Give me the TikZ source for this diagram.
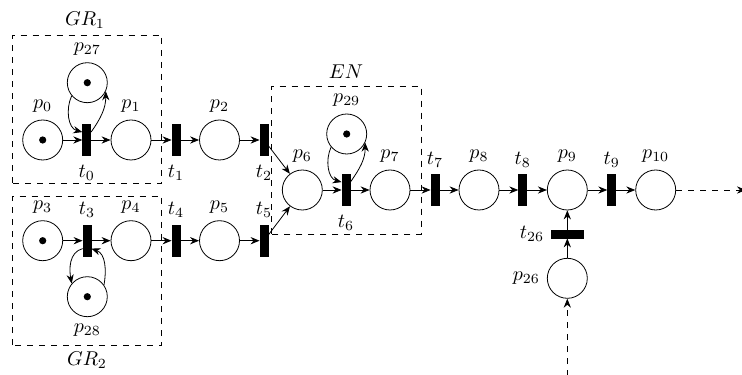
\documentclass[tikz,border=0pt]{standalone}
\usetikzlibrary{petri,arrows.meta}

\begin{document}
\begin{tikzpicture}[x=0.5pt,y=0.5pt,
  every place/.style={draw,thin,minimum size=20pt,inner sep=0pt},
  every transition/.style={draw,fill=black,minimum width=4pt,
    minimum height=15.5pt,inner sep=0pt},
  every token/.style={minimum size=3.6pt},
  htrans/.style={transition,minimum width=15.8pt,minimum height=4pt},
  arc/.style={-{Stealth[length=4.5pt,width=3.6pt]},thin},
  grp/.style={dashed,thin}]
  \useasboundingbox (0,0) rectangle (742,374);
  \node[place,tokens=1,label=above:$p_0$] (p0) at (42.7,234) {};
  \node[transition,label={[label distance=1pt]below:$t_0$}] (t0) at (86.7,234) {};
  \node[place,label=above:$p_1$] (p1) at (131,234) {};
  \node[transition,label={[label distance=1pt]below:$t_1$}] (t1) at (176,234) {};
  \node[place,label=above:$p_2$] (p2) at (219.5,234) {};
  \node[transition,label={[label distance=1pt]below:$t_2$}] (t2) at (264,234) {};
  \node[place,tokens=1,label=above:$p_{27}$] (p27) at (87.3,291.3) {};
  \node[place,tokens=1,label=above:$p_3$] (p3) at (42.7,133.3) {};
  \node[transition,label=above:$t_3$] (t3) at (87,133.3) {};
  \node[place,label=above:$p_4$] (p4) at (131,133.3) {};
  \node[transition,label=above:$t_4$] (t4) at (176,133.3) {};
  \node[place,label=above:$p_5$] (p5) at (219.5,133.3) {};
  \node[transition,label=above:$t_5$] (t5) at (264,133.3) {};
  \node[place,tokens=1,label=below:$p_{28}$] (p28) at (87.3,77.3) {};
  \node[place,label=above:$p_6$] (p6) at (302.3,184) {};
  \node[transition,label={[label distance=1pt]below:$t_6$}] (t6) at (346,184) {};
  \node[place,label=above:$p_7$] (p7) at (390,184) {};
  \node[transition,label=above:$t_7$] (t7) at (435,184) {};
  \node[place,label=above:$p_8$] (p8) at (479,184) {};
  \node[transition,label=above:$t_8$] (t8) at (522.7,184) {};
  \node[place,label=above:$p_9$] (p9) at (567.3,184) {};
  \node[transition,label=above:$t_9$] (t9) at (611.7,184) {};
  \node[place,label=above:$p_{10}$] (p10) at (655.7,184) {};
  \node[place,tokens=1,label=above:$p_{29}$] (p29) at (346.7,240) {};
  \node[htrans,label=left:$t_{26}$] (t26) at (567.3,140) {};
  \node[place,label=left:$p_{26}$] (p26) at (567.3,95.7) {};
  \coordinate (exit) at (746,184);
  \coordinate (entry) at (567.3,-2);
  \foreach \a/\b in {p0/t0,t0/p1,p1/t1,t1/p2,p2/t2,t2/p6,
    p3/t3,t3/p4,p4/t4,t4/p5,p5/t5,t5/p6,
    p6/t6,t6/p7,p7/t7,t7/p8,p8/t8,t8/p9,p9/t9,t9/p10,
    p26/t26,t26/p9}
    \draw[arc] (\a) -- (\b);
  \draw[arc] (p27.220) to[out=245,in=165] ([yshift=-4pt]t0.north west);
  \draw[arc] ([yshift=-4pt]t0.north east) to[out=55,in=-90] (p27.-25);
  \draw[arc] ([yshift=4pt]t3.south west) to[out=195,in=100] (p28.140);
  \draw[arc] (p28.35) to[out=80,in=-20] ([yshift=4pt]t3.south east);
  \draw[arc] (p29.220) to[out=245,in=165] ([yshift=-4pt]t6.north west);
  \draw[arc] ([yshift=-4pt]t6.north east) to[out=55,in=-90] (p29.-25);
  \draw[arc,dashed] (p10) -- (exit);
  \draw[arc,dashed] (entry) -- (p26);
  \draw[grp] (12.7,191) rectangle (161.7,339);
  \draw[grp] (12.7,29) rectangle (161.7,178);
  \draw[grp] (271.7,140) rectangle (421,288);
  \node (gr1) at (85,354) {$GR_1$};
  \node (gr2) at (87,14) {$GR_2$};
  \node (en) at (346,302.3) {$EN$};
\end{tikzpicture}
\end{document}
